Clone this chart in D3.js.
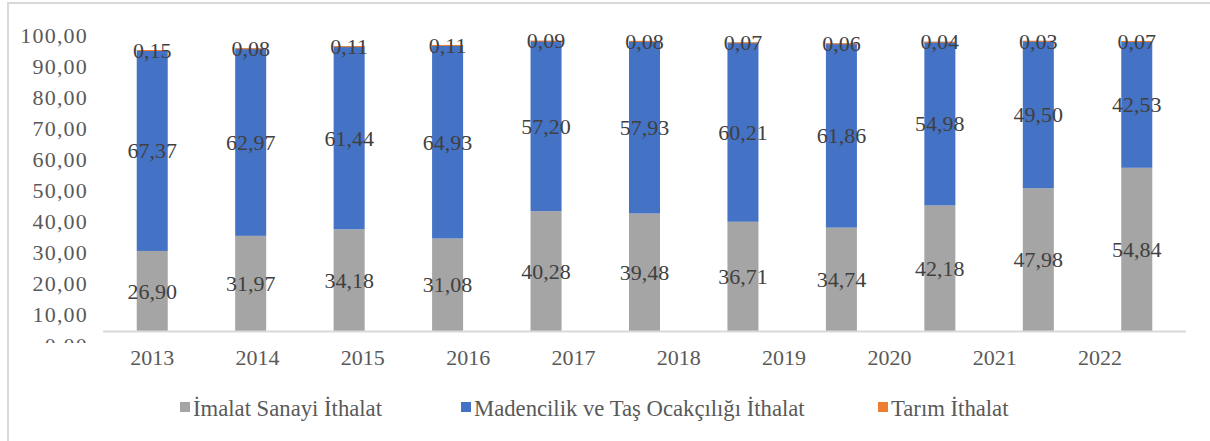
<!DOCTYPE html>
<html>
<head>
<meta charset="utf-8">
<script src="https://cdn.jsdelivr.net/npm/d3@7"></script>
<style>
  body { margin: 0; background: #fff; }
</style>
</head>
<body>
<div id="chart"></div>
<script>
// data
var yearLabels = ["2013", "2014", "2015", "2016", "2017", "2018", "2019", "2020", "2021", "2022"];
var imalat = [26.90, 31.97, 34.18, 31.08, 40.28, 39.48, 36.71, 34.74, 42.18, 47.98, 54.84];
var madencilik = [67.37, 62.97, 61.44, 64.93, 57.20, 57.93, 60.21, 61.86, 54.98, 49.50, 42.53];
var tarim = [0.15, 0.08, 0.11, 0.11, 0.09, 0.08, 0.07, 0.06, 0.04, 0.03, 0.07];
var yTicks = [0, 10, 20, 30, 40, 50, 60, 70, 80, 90, 100];
var seriesNames = ["İmalat Sanayi İthalat", "Madencilik ve Taş Ocakçılığı İthalat", "Tarım İthalat"];
var colors = ["#A5A5A5", "#4472C4", "#ED7D31"];

var W = 1210, H = 441;
var FONT = "Liberation Serif";
var trTR = d3.formatLocale({decimal: ",", thousands: ".", grouping: [3], currency: ["", " ₺"]});
var fmt = trTR.format(".2f");

var svg = d3.select("#chart").append("svg")
  .attr("width", W)
  .attr("height", H);

// chart frame (left + top edges visible)
svg.append("path")
  .attr("d", "M8," + H + "V3H" + W)
  .attr("fill", "none")
  .attr("stroke", "#D9D9D9")
  .attr("stroke-width", 2);

// build stacked table
var table = imalat.map(function(v, i) {
  return {idx: i, a: v, b: madencilik[i], c: tarim[i]};
});
var stack = d3.stack().keys(["a", "b", "c"]);
var layers = stack(table);

var x = d3.scaleBand()
  .domain(table.map(d => d.idx))
  .range([103, 1186])
  .paddingInner(0.685)
  .paddingOuter(0.3425);

var y = d3.scaleLinear()
  .domain([0, 100])
  .range([331, 33.4]);

// value axis labels (drawn a bit lower than the bars, as in the picture)
var yLab = d3.scaleLinear()
  .domain([0, 100])
  .range([345, 35]);

svg.append("clipPath").attr("id", "clipY")
  .append("rect").attr("x", -100).attr("y", 0).attr("width", 100).attr("height", 343);

var yAxis = svg.append("g")
  .attr("transform", "translate(90,0)")
  .attr("clip-path", "url(#clipY)")
  .call(d3.axisLeft(yLab).tickValues(yTicks).tickFormat(fmt).tickSize(0).tickPadding(2));
yAxis.select(".domain").remove();
yAxis.attr("font-family", FONT).attr("font-size", 22);
yAxis.selectAll("text")
  .attr("fill", "#595959")
  .style("letter-spacing", "1.2px");

// bars
var g = svg.append("g");
layers.forEach(function(layer, li) {
  g.append("g")
    .selectAll("rect")
    .data(layer)
    .enter()
    .append("rect")
    .attr("x", d => x(d.data.idx))
    .attr("width", x.bandwidth())
    .attr("y", d => y(d[1]))
    .attr("height", d => Math.max(y(d[0]) - y(d[1]), li == 2 ? 1 : 0))
    .attr("fill", colors[li]);
});

// x axis line
svg.append("line")
  .attr("x1", 103).attr("x2", 1186)
  .attr("y1", 331.5).attr("y2", 331.5)
  .attr("stroke", "#D9D9D9")
  .attr("stroke-width", 2);

// category labels
var xLab = d3.scalePoint()
  .domain(yearLabels)
  .range([151.7, 1099.5]);
var xAxis = svg.append("g")
  .attr("transform", "translate(0,343)")
  .call(d3.axisBottom(xLab).tickSize(0).tickPadding(6));
xAxis.select(".domain").remove();
xAxis.attr("font-family", FONT).attr("font-size", 22);
xAxis.selectAll("text")
  .attr("fill", "#595959");

// data labels
layers.forEach(function(layer) {
  svg.append("g")
    .selectAll("text")
    .data(layer)
    .enter()
    .append("text")
    .attr("x", d => x(d.data.idx) + x.bandwidth() / 2)
    .attr("y", d => (y(d[0]) + y(d[1])) / 2)
    .attr("dy", "0.35em")
    .attr("text-anchor", "middle")
    .attr("font-family", FONT)
    .attr("font-size", "22px")
    .attr("fill", "#404040")
    .text(d => fmt(d[1] - d[0]));
});

// legend
var legendX = [180, 461, 878];
var legend = svg.append("g");
seriesNames.forEach(function(name, i) {
  legend.append("rect")
    .attr("x", legendX[i]).attr("y", 402)
    .attr("width", 10).attr("height", 10)
    .attr("fill", colors[i]);
  legend.append("text")
    .attr("x", legendX[i] + 13)
    .attr("y", 408)
    .attr("dy", "0.35em")
    .attr("font-family", FONT)
    .attr("font-size", "22.7px")
    .attr("fill", "#595959")
    .text(name);
});
</script>
</body>
</html>
